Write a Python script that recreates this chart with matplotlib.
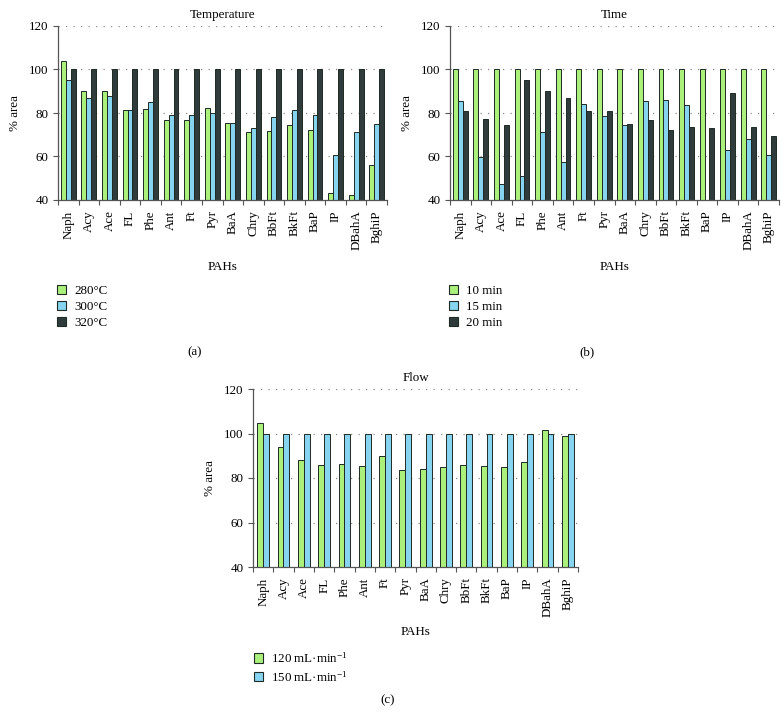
import numpy as np
import matplotlib
matplotlib.use("Agg")
import matplotlib.pyplot as plt
from matplotlib.patches import Patch

plt.rcParams['font.family'] = ['Liberation Serif', 'DejaVu Serif']
plt.rcParams['mathtext.fontset'] = 'custom'
plt.rcParams['mathtext.rm'] = 'Liberation Serif'
plt.rcParams['mathtext.it'] = 'Liberation Serif:italic'

pahs = ["Naph", "Acy", "Ace", "FL", "Phe", "Ant", "Ft", "Pyr", "BaA", "Chry",
        "BbFt", "BkFt", "BaP", "IP", "DBahA", "BghiP"]

# (a) Temperature
temp_labels = ["280°C", "300°C", "320°C"]
temp_280 = [104, 90.3, 90, 81.3, 82, 77, 77, 82.5, 75.2, 71.3, 71.5, 74.5, 72.3, 43.3, 42.5, 56.3]
temp_300 = [95, 87, 88, 81.3, 85, 79.3, 79.3, 80, 75.5, 73.3, 78, 81.5, 79, 60.7, 71.3, 75]
temp_320 = [100] * 16

# (b) Time
time_labels = ["10 min", "15 min", "20 min"]
time_10 = [100] * 16
time_15 = [85.5, 60, 47.3, 51, 71.3, 57.7, 84, 78.7, 74.5, 85.7, 86, 83.8, np.nan, 63, 68, 60.7]
time_20 = [81, 77.3, 74.5, 95.2, 90.3, 86.7, 81, 81, 75, 77, 72.3, 73.7, 73, 89, 73.7, 69.3]

# (c) Flow
flow_labels = ["120 mL·min$^{-1}$", "150 mL·min$^{-1}$"]
flow_120 = [104.5, 93.8, 88.3, 85.8, 86.4, 85.2, 90, 83.6, 84.1, 84.8, 85.9, 85.5, 84.8, 87.3, 101.5, 98.8]
flow_150 = [100] * 16

yticks = [40, 60, 80, 100, 120]

GREEN = "#acf07c"
BLUE = "#86d4f0"
DARK = "#303c3c"
EDGE = "#1e2a24"
FS = 9.4

W, H = 784, 728
fig = plt.figure(figsize=(W / 100, H / 100), dpi=100)


def px_axes(l, t, r, b):
    return fig.add_axes([l / W, 1 - b / H, (r - l) / W, (b - t) / H])


def style(ax, title):
    n = len(pahs)
    ax.set_xlim(0, n)
    ax.set_ylim(40, 120)
    ax.set_yticks(yticks)
    ax.set_yticklabels([str(v) for v in yticks], fontsize=FS)
    ax.set_xticks(np.arange(n) + 0.5)
    ax.set_xticklabels(pahs, rotation=90, fontsize=FS)
    ax.set_xticks(np.arange(n + 1), minor=True)
    ax.tick_params(axis='x', which='major', length=0, pad=7.5)
    ax.tick_params(axis='x', which='minor', length=3.8, width=0.8, color='#555555', direction='out')
    ax.tick_params(axis='y', length=3.6, width=0.8, color='#555555', direction='out', pad=3)
    for s in ['top', 'right']:
        ax.spines[s].set_visible(False)
    for s in ['left', 'bottom']:
        ax.spines[s].set_color('#555555')
        ax.spines[s].set_linewidth(0.9)
    for v in yticks[1:]:
        ax.axhline(v, color='#8a8a8a', linestyle=(0, (1, 5)), linewidth=0.9, zorder=0)
    ax.set_title(title, fontsize=FS, pad=6)
    ax.set_ylabel("% area", fontsize=FS, labelpad=6)


def bars(ax, series, colors, width):
    x = np.arange(len(pahs)) + 0.5
    k = len(series)
    for i, (vals, c) in enumerate(zip(series, colors)):
        off = (i - (k - 1) / 2) * width
        v = np.array(vals, dtype=float)
        ax.bar(x + off, v - 40, width, bottom=40, color=c, edgecolor=EDGE,
               linewidth=0.7, zorder=2)


def legend(ax, labels, colors, x, y):
    handles = [Patch(facecolor=c, edgecolor=EDGE, linewidth=0.8) for c in colors]
    ax.legend(handles, labels, loc='upper left', bbox_to_anchor=(x / W, 1 - y / H),
              bbox_transform=fig.transFigure, frameon=False, fontsize=FS,
              handlelength=0.7, handleheight=0.7, handletextpad=0.6,
              labelspacing=0.3, borderaxespad=0, borderpad=0)


# Panel (a)
axa = px_axes(58, 26, 387, 200)
style(axa, "Temperature")
bars(axa, [temp_280, temp_300, temp_320], [GREEN, BLUE, DARK], 0.24)
fig.text((58 + 387) / 2 / W, 1 - 267 / H, "PAHs", ha='center', va='center', fontsize=FS)
legend(axa, temp_labels, [GREEN, BLUE, DARK], 57, 285)
fig.text(195 / W, 1 - 352 / H, "(a)", ha='center', va='center', fontsize=FS)

# Panel (b)
axb = px_axes(450, 26, 779, 200)
style(axb, "Time")
bars(axb, [time_10, time_15, time_20], [GREEN, BLUE, DARK], 0.24)
fig.text((450 + 779) / 2 / W, 1 - 267 / H, "PAHs", ha='center', va='center', fontsize=FS)
legend(axb, time_labels, [GREEN, BLUE, DARK], 449, 285)
fig.text(587 / W, 1 - 352 / H, "(b)", ha='center', va='center', fontsize=FS)

# Panel (c)
axc = px_axes(253, 389, 578, 567)
style(axc, "Flow")
bars(axc, [flow_120, flow_150], [GREEN, BLUE], 0.29)
fig.text((253 + 578) / 2 / W, 1 - 632 / H, "PAHs", ha='center', va='center', fontsize=FS)
legend(axc, flow_labels, [GREEN, BLUE], 254, 651)
fig.text(388 / W, 1 - 700 / H, "(c)", ha='center', va='center', fontsize=FS)

fig.savefig("out.png", dpi=100)
